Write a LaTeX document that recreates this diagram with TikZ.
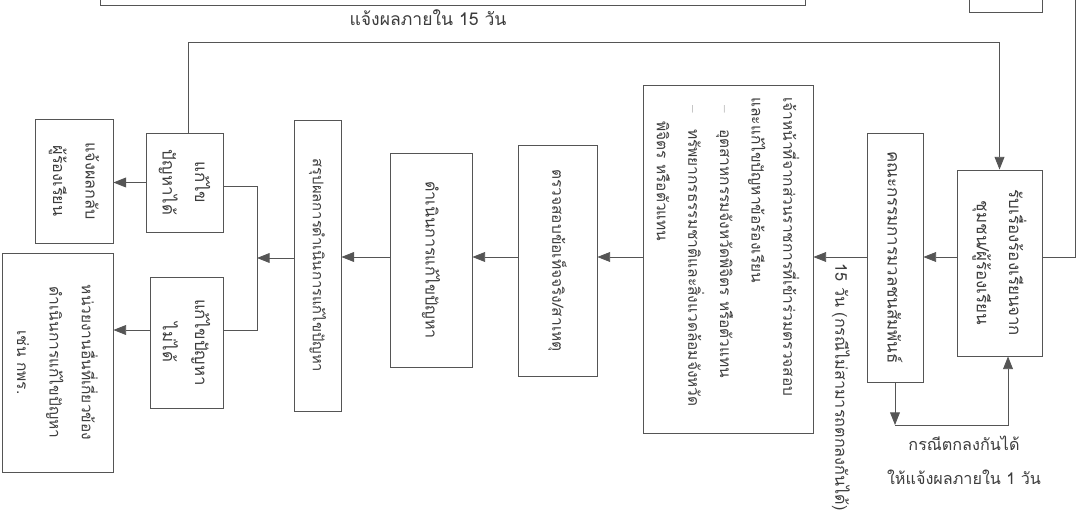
\documentclass[tikz,border=0pt]{standalone}
\usepackage{fontspec}
\newfontfamily\thaifont[Script=Thai]{Loma}
\usetikzlibrary{arrows.meta,positioning}
\definecolor{linegray}{HTML}{555555}
\definecolor{textgray}{HTML}{3C3C3C}
\tikzset{
  box/.style={draw=linegray, line width=0.6pt, rotate=-90, align=center, inner sep=2pt,
    text=textgray, font=\thaifont\fontsize{12}{23}\selectfont},
  lbl/.style={text=textgray, inner sep=1pt, font=\thaifont\fontsize{11.5}{24}\selectfont},
  arr/.style={-{Triangle[length=9pt,width=7pt]}, draw=linegray, line width=0.6pt},
  ln/.style={draw=linegray, line width=0.6pt}
}
\begin{document}
\begin{tikzpicture}[x=0.025cm, y=-0.025cm]
  \useasboundingbox (0,0) rectangle (1077,524);
  \clip (0,0) rectangle (1077,524);

  % boxes cut off by the top of the page
  \draw[ln] (100,-30) rectangle (805,5);
  \draw[ln] (969,-30) rectangle (1042,12);

  % main row
  \node[box, minimum width=4.65cm, minimum height=2.125cm] (recv) at (999.5,263)
    {รับเรื่องร้องเรียนจาก\\ชุมชน/ผู้ร้องเรียน};
  \node[box, minimum width=6.225cm, minimum height=1.4cm] (comm) at (895,257.5)
    {คณะกรรมการมวลชนสัมพันธ์};
  \node[box, minimum width=8.675cm, minimum height=4.25cm, align=left,
    text width=8.1cm, inner xsep=0.3cm, font=\thaifont\fontsize{11}{22.5}\selectfont] (staff) at (728,259.5)
    {เจ้าหน้าที่จากส่วนราชการที่เข้าร่วมตรวจสอบ\\
     และแก้ไขปัญหาข้อร้องเรียน\\
     \mbox{\hspace{0.2cm}{\rmfamily --}\hspace{0.4cm}อุตสาหกรรมจังหวัดพิจิตร หรือตัวแทน}\\
     \mbox{\hspace{0.2cm}{\rmfamily --}\hspace{0.4cm}ทรัพยากรธรรมชาติและสิ่งแวดล้อมจังหวัด}\\
     \mbox{\hspace{0.6cm}พิจิตร หรือตัวแทน}};
  \node[box, minimum width=5.775cm, minimum height=1.975cm,
    font=\thaifont\fontsize{11}{23}\selectfont] (check) at (557.5,260.5)
    {ตรวจสอบข้อเท็จจริง/สาเหตุ};
  \node[box, minimum width=5.35cm, minimum height=2.05cm,
    font=\thaifont\fontsize{11.5}{23}\selectfont] (act) at (431,260)
    {ดำเนินการแก้ไขปัญหา};
  \node[box, minimum width=7.275cm, minimum height=1.175cm,
    font=\thaifont\fontsize{10.5}{23}\selectfont] (sum) at (317.5,265.5)
    {สรุปผลการดำเนินการแก้ไขปัญหา};

  % outcomes
  \node[box, minimum width=2.475cm, minimum height=1.925cm] (ok) at (184.5,182.5)
    {แก้ไข\\ปัญหาได้};
  \node[box, minimum width=3.275cm, minimum height=1.825cm] (notok) at (186.5,342.5)
    {แก้ไขปัญหา\\ไม่ได้};
  \node[box, minimum width=3.1cm, minimum height=1.95cm,
    font=\thaifont\fontsize{11.5}{23}\selectfont] (reply) at (74,181)
    {แจ้งผลกลับ\\ผู้ร้องเรียน};
  \node[box, minimum width=5.475cm, minimum height=2.775cm,
    font=\thaifont\fontsize{11}{23}\selectfont] (other) at (57.5,362.5)
    {หน่วยงานอื่นที่เกี่ยวข้อง\\ดำเนินการแก้ไขปัญหา\\เช่น กพร.};

  \coordinate (row) at (0,257);
  \coordinate (split) at (257,258);
  \coordinate (splittop) at (257,186);
  \coordinate (splitbot) at (257,330);
  \coordinate (fb) at (188,42);
  \coordinate (agree) at (1008,425);
  \coordinate (side) at (1075,257);

  \draw[arr] (recv.south |- row) -- (comm.north |- row);
  \draw[arr] (comm.south |- row) -- (staff.north |- row);
  \draw[arr] (staff.south |- row) -- (check.north |- row);
  \draw[arr] (check.south |- row) -- (act.north |- row);
  \draw[arr] (act.south |- row) -- (sum.north |- row);
  \draw[arr] (sum.south |- split) -- (split);
  \draw[ln] (ok.north |- splittop) -- (splittop) -- (splitbot) -- (notok.north |- splitbot);
  \draw[arr] (ok.south) -- (ok.south -| reply.north);
  \draw[arr] (notok.south |- splitbot) -- (other.north |- splitbot);

  % feedback to the complainant
  \draw[arr] (ok.west -| fb) -- (fb) -| (recv.west);
  \node[lbl, font=\thaifont\fontsize{12.5}{24}\selectfont] (fbtext) at (428,18) {แจ้งผลภายใน 15 วัน};

  % agreement loop
  \draw[arr] (comm.east) -- (comm.east |- agree);
  \draw[arr] (comm.east |- agree) -- (agree) -- (recv.east -| agree);
  \node[lbl, align=center] (agreetext) at (964,460) {กรณีตกลงกันได้\\ให้แจ้งผลภายใน 1 วัน};

  \node[lbl, rotate=-90, anchor=west] (failtext) at (841,262)
    {15 วัน (กรณีไม่สามารถตกลงกันได้)};

  \draw[ln] (recv.north |- side) -- (side) -- (1075,-10);
\end{tikzpicture}
\end{document}
